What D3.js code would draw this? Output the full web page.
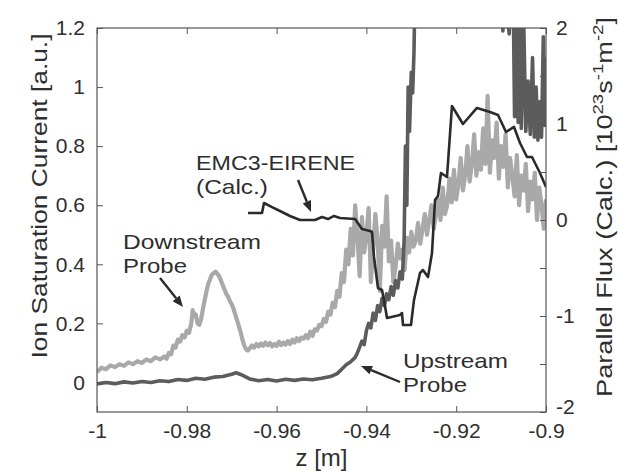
<!DOCTYPE html>
<html><head><meta charset="utf-8">
<script src="https://cdn.jsdelivr.net/npm/d3@7"></script>
<style>
html,body{margin:0;padding:0;background:#fff;}
svg{display:block;font-family:"Liberation Sans",Arial,Helvetica,sans-serif;}
</style></head>
<body>
<svg id="chart" width="618" height="472"></svg>
<script>
// ---------- data ----------
const zDomain = [-1, -0.9];
const leftDomain = [-0.1, 1.2];
const rightDomain = [-2, 2];
const xTicks = [-1, -0.98, -0.96, -0.94, -0.92, -0.9];
const leftTicks = [0, 0.2, 0.4, 0.6, 0.8, 1, 1.2];
const rightTicks = [-2, -1.5, -1, -0.5, 0, 0.5, 1, 1.5, 2];
const rightTickLabels = ["-2", "", "-1", "", "0", "", "1", "", "2"];

// Downstream probe (ion saturation current, a.u.)
const downstreamZ = [-1.0000,-0.9990,-0.9980,-0.9970,-0.9960,-0.9950,-0.9940,-0.9930,-0.9920,-0.9910,-0.9900,-0.9890,-0.9880,-0.9870,-0.9860,-0.9850,-0.9845,-0.9840,-0.9835,-0.9830,-0.9825,-0.9820,-0.9815,-0.9810,-0.9805,-0.9800,-0.9795,-0.9790,-0.9787,-0.9783,-0.9780,-0.9776,-0.9772,-0.9768,-0.9764,-0.9760,-0.9756,-0.9752,-0.9748,-0.9744,-0.9740,-0.9736,-0.9732,-0.9728,-0.9724,-0.9720,-0.9716,-0.9712,-0.9708,-0.9704,-0.9700,-0.9696,-0.9692,-0.9688,-0.9684,-0.9680,-0.9676,-0.9672,-0.9668,-0.9664,-0.9660,-0.9655,-0.9650,-0.9645,-0.9640,-0.9635,-0.9630,-0.9625,-0.9620,-0.9615,-0.9610,-0.9605,-0.9600,-0.9595,-0.9590,-0.9585,-0.9580,-0.9575,-0.9570,-0.9565,-0.9560,-0.9555,-0.9550,-0.9545,-0.9540,-0.9535,-0.9530,-0.9525,-0.9520,-0.9515,-0.9510,-0.9505,-0.9500,-0.9495,-0.9490,-0.9485,-0.9480,-0.9475,-0.9470,-0.9465,-0.9460,
  -0.9455,-0.9450,-0.9445,-0.9440,-0.9435,-0.9430,-0.9425,-0.9420,-0.9415,-0.9410,-0.9405,-0.9400,-0.9395,-0.9390,-0.9385,-0.9380,-0.9375,-0.9370,-0.9365,-0.9360,-0.9355,-0.9350,-0.9345,-0.9340,-0.9335,-0.9330,-0.9325,-0.9320,-0.9315,-0.9310,-0.9305,-0.9300,-0.9295,-0.9290,-0.9285,-0.9280,-0.9275,-0.9270,-0.9265,-0.9260,-0.9255,-0.9250,-0.9245,-0.9240,-0.9235,-0.9230,-0.9225,-0.9220,-0.9215,-0.9210,-0.9205,-0.9200,-0.9195,-0.9190,-0.9185,-0.9180,-0.9175,-0.9170,-0.9165,-0.9160,-0.9155,-0.9150,-0.9145,-0.9140,-0.9135,-0.9130,-0.9125,-0.9120,-0.9115,-0.9110,-0.9105,-0.9100,-0.9095,-0.9090,-0.9085,-0.9080,-0.9075,-0.9070,-0.9065,-0.9060,-0.9055,-0.9050,-0.9045,-0.9040,-0.9035,-0.9030,-0.9025,-0.9020,-0.9015,-0.9010,-0.9005,-0.9000];
const downstreamI = [0.035,0.05,0.045,0.058,0.052,0.062,0.056,0.068,0.062,0.072,0.066,0.078,0.072,0.085,0.078,0.088,0.08,0.1,0.095,0.125,0.118,0.145,0.138,0.16,0.152,0.175,0.168,0.2,0.245,0.225,0.23,0.2,0.195,0.215,0.25,0.28,0.31,0.335,0.35,0.365,0.37,0.375,0.368,0.36,0.345,0.33,0.315,0.3,0.29,0.275,0.265,0.25,0.23,0.21,0.19,0.17,0.145,0.125,0.112,0.108,0.115,0.125,0.118,0.13,0.122,0.132,0.124,0.135,0.126,0.134,0.122,0.13,0.124,0.138,0.127,0.135,0.128,0.14,0.13,0.145,0.135,0.15,0.14,0.152,0.148,0.16,0.15,0.172,0.158,0.18,0.176,0.195,0.19,0.215,0.205,0.24,0.23,0.27,0.255,0.31,0.29,
  0.37,0.34,0.45,0.4,0.52,0.43,0.6,0.5,0.36,0.56,0.44,0.5,0.59,0.34,0.45,0.57,0.48,0.31,0.53,0.46,0.63,0.41,0.48,0.34,0.39,0.47,0.42,0.45,0.38,0.49,0.44,0.51,0.46,0.48,0.54,0.47,0.52,0.57,0.5,0.55,0.6,0.52,0.57,0.62,0.55,0.66,0.57,0.6,0.69,0.61,0.72,0.62,0.67,0.76,0.65,0.7,0.8,0.68,0.74,0.84,0.7,0.78,0.72,0.86,0.74,0.97,0.71,0.82,0.76,0.88,0.69,0.8,0.73,0.84,0.66,0.76,0.7,0.63,0.77,0.6,0.7,0.65,0.74,0.58,0.68,0.62,0.71,0.55,0.66,0.6,0.52,0.62];

// Upstream probe (ion saturation current, a.u.)
const upstreamZ = [-1.000,-0.998,-0.996,-0.994,-0.992,-0.990,-0.988,-0.986,-0.984,-0.982,-0.980,-0.978,-0.976,-0.974,-0.972,-0.970,-0.969,-0.968,-0.967,-0.966,-0.964,-0.962,-0.960,-0.958,-0.956,-0.954,-0.952,-0.950,-0.948,-0.9465,-0.9455,-0.9445,-0.9435,-0.9425,-0.942,-0.9415,-0.941,-0.9405,-0.940,-0.9395,-0.939,-0.9385,-0.938,-0.9375,-0.937,-0.9365,-0.936,-0.9355,-0.935,-0.9345,-0.934,-0.9335,-0.933,-0.9325,-0.932,-0.9316,-0.9313,-0.931,-0.9307,-0.9304,-0.930,-0.9297,-0.9294,-0.9291,-0.928,-0.926,-0.924,-0.922,-0.920,-0.918,-0.916,-0.914,-0.912,-0.910,-0.9096,-0.9092,-0.9082,-0.9078,-0.9073,-0.9070,-0.9066,-0.9062,-0.9058,-0.9055,-0.9050,-0.9045,-0.9040,-0.9035,-0.9030,-0.9026,-0.9022,-0.9018,-0.9014,-0.9010,-0.9006,-0.9003,-0.9000];
const upstreamI = [-0.005,0.0,-0.004,0.002,-0.002,0.003,0.0,0.006,0.003,0.01,0.007,0.014,0.011,0.018,0.02,0.028,0.033,0.027,0.02,0.012,0.006,0.01,0.005,0.011,0.007,0.012,0.009,0.014,0.02,0.03,0.045,0.06,0.07,0.085,0.1,0.12,0.14,0.128,0.175,0.2,0.185,0.235,0.21,0.26,0.24,0.285,0.26,0.3,0.28,0.325,0.295,0.345,0.32,0.375,0.35,0.48,0.8,0.6,1.0,0.85,1.05,0.98,1.12,1.4,1.6,1.7,1.8,1.9,1.8,1.7,1.6,1.55,1.5,1.45,1.19,1.35,1.18,1.35,1.3,0.9,1.3,0.88,1.3,0.86,1.25,0.85,1.02,0.84,1.1,0.83,1.0,0.82,0.95,0.83,1.17,0.87,1.1];

// EMC3-EIRENE parallel flux (10^23 s^-1 m^-2)
const emc3Z = [-0.96637,-0.96325,-0.96281,-0.96102,-0.95924,-0.95702,-0.95479,-0.95145,-0.94989,-0.94855,-0.94722,-0.94588,-0.94254,-0.94098,-0.9392,-0.93875,-0.93831,-0.93742,-0.93653,-0.93608,-0.93541,-0.93252,-0.93207,-0.93185,-0.93007,-0.9294,-0.92806,-0.9274,-0.92628,-0.92539,-0.92472,-0.92405,-0.92339,-0.92205,-0.92094,-0.91849,-0.91537,-0.91247,-0.91069,-0.90891,-0.90713,-0.90579,-0.90423,-0.90312,-0.90134,-0.9];
const emc3Flux = [0.073,0.073,0.177,0.135,0.094,0.042,0.0,0.0,0.031,0.01,0.042,0.021,0.01,-0.094,-0.115,-0.125,-0.385,-0.708,-0.729,-0.833,-1.021,-0.99,-0.969,-1.094,-1.094,-0.833,-0.552,-0.521,-0.594,-0.344,0.208,0.25,0.49,0.448,1.188,1.0,1.167,1.125,1.094,0.917,0.969,0.802,0.656,0.656,0.49,0.344];

// annotations (data coordinates, left axis)
const labels = [
  {lines:["EMC3-EIRENE","(Calc.)"], z:-0.97795, v:[0.719,0.638], w:[159,72]},
  {lines:["Downstream","Probe"], z:-0.99421, v:[0.452,0.371], w:[138,64]},
  {lines:["Upstream","Probe"], z:-0.93185, v:[0.049,-0.0323], w:[105,64]}
];
const arrows = [
  {from:[-0.95523,0.6856], to:[-0.95234,0.5773]},
  {from:[-0.98597,0.3537], to:[-0.98085,0.2556]},
  {from:[-0.93252,0.0016], to:[-0.9412,0.0558]}
];

// ---------- drawing ----------
const M = {l:97, r:546, t:28, b:412};
const svg = d3.select("#chart");
const x = d3.scaleLinear(zDomain, [M.l, M.r]);
const yL = d3.scaleLinear(leftDomain, [M.b, M.t]);
const yR = d3.scaleLinear(rightDomain, [M.b, M.t]);
const fmt = d => String(+d.toFixed(2));
const axisColor = "#555";
const textColor = "#2e2e2e";

svg.append("defs").append("clipPath").attr("id","clip")
  .append("rect").attr("x",M.l).attr("y",M.t).attr("width",M.r-M.l).attr("height",M.b-M.t);

const plot = svg.append("g").attr("clip-path","url(#clip)");

const lineL = d3.line().x(d=>x(d[0])).y(d=>yL(d[1]));
const lineR = d3.line().x(d=>x(d[0])).y(d=>yR(d[1]));

plot.append("path").datum(d3.zip(downstreamZ, downstreamI))
  .attr("d", lineL).attr("fill","none").attr("stroke","#a9a9a9")
  .attr("stroke-width",4.2).attr("stroke-linejoin","round");
plot.append("path").datum(d3.zip(upstreamZ, upstreamI))
  .attr("d", lineL).attr("fill","none").attr("stroke","#5c5c5c")
  .attr("stroke-width",3.6).attr("stroke-linejoin","round");
plot.append("path").datum(d3.zip(emc3Z, emc3Flux))
  .attr("d", lineR).attr("fill","none").attr("stroke","#2b2b2b")
  .attr("stroke-width",2.6).attr("stroke-linejoin","round");

// axes
function styleAxis(g){
  g.select(".domain").remove();
  g.selectAll(".tick line").attr("stroke",axisColor).attr("stroke-width",1);
  g.selectAll(".tick text").attr("fill",textColor).style("font-size","21px")
   .style("font-family","'Liberation Sans',Arial,Helvetica,sans-serif");
}
svg.append("g").attr("transform",`translate(0,${M.b})`)
  .call(d3.axisBottom(x).tickValues(xTicks).tickFormat(fmt).tickSize(-6).tickPadding(11))
  .call(styleAxis);
svg.append("g").attr("transform",`translate(0,${M.t})`)
  .call(d3.axisTop(x).tickValues(xTicks).tickFormat("").tickSize(-6))
  .call(styleAxis);
svg.append("g").attr("transform",`translate(${M.l},0)`)
  .call(d3.axisLeft(yL).tickValues(leftTicks).tickFormat(fmt).tickSize(-6).tickPadding(12))
  .call(styleAxis);
svg.append("g").attr("transform",`translate(${M.r},0)`)
  .call(d3.axisRight(yR).tickValues(rightTicks).tickFormat((d,i)=>rightTickLabels[i]).tickSize(-6).tickPadding(10))
  .call(styleAxis)
  .call(g=>g.selectAll(".tick text").filter(d=>d===-2).attr("y",-5));

svg.append("rect").attr("x",M.l).attr("y",M.t).attr("width",M.r-M.l).attr("height",M.b-M.t)
  .attr("fill","none").attr("stroke",axisColor).attr("stroke-width",1.2);

// axis titles
svg.append("text").attr("x",(M.l+M.r)/2).attr("y",466).attr("text-anchor","middle")
  .attr("fill",textColor).style("font-size","24px").text("z [m]");
svg.append("text").attr("transform","translate(47,196) rotate(-90)").attr("text-anchor","middle")
  .attr("fill",textColor).style("font-size","22px")
  .attr("textLength",325).attr("lengthAdjust","spacingAndGlyphs")
  .text("Ion Saturation Current [a.u.]");
const rt = svg.append("text").attr("transform","translate(612,207) rotate(-90)").attr("text-anchor","middle")
  .attr("fill",textColor).style("font-size","22px")
  .attr("textLength",380).attr("lengthAdjust","spacingAndGlyphs");
rt.append("tspan").text("Parallel Flux (Calc.) [10");
rt.append("tspan").attr("dy",-9).style("font-size","15px").text("23");
rt.append("tspan").attr("dy",9).text("s");
rt.append("tspan").attr("dy",-9).style("font-size","15px").text("-1");
rt.append("tspan").attr("dy",9).text("m");
rt.append("tspan").attr("dy",-9).style("font-size","15px").text("-2");
rt.append("tspan").attr("dy",9).text("]");

// annotations
labels.forEach(lb=>{
  lb.lines.forEach((t,i)=>{
    svg.append("text").attr("x",x(lb.z)).attr("y",yL(lb.v[i]))
      .attr("fill",textColor).style("font-size","21px")
      .attr("textLength",lb.w[i]).attr("lengthAdjust","spacingAndGlyphs").text(t);
  });
});
arrows.forEach(a=>{
  const x1=x(a.from[0]), y1=yL(a.from[1]), x2=x(a.to[0]), y2=yL(a.to[1]);
  const ang=Math.atan2(y2-y1,x2-x1), L=11, W=4.5;
  const bx=x2-L*Math.cos(ang), by=y2-L*Math.sin(ang);
  svg.append("line").attr("x1",x1).attr("y1",y1).attr("x2",bx).attr("y2",by)
    .attr("stroke","#2b2b2b").attr("stroke-width",2.4);
  svg.append("path").attr("d",`M${x2},${y2}L${bx-W*Math.sin(ang)},${by+W*Math.cos(ang)}L${bx+W*Math.sin(ang)},${by-W*Math.cos(ang)}Z`)
    .attr("fill","#2b2b2b");
});
</script>
</body></html>
